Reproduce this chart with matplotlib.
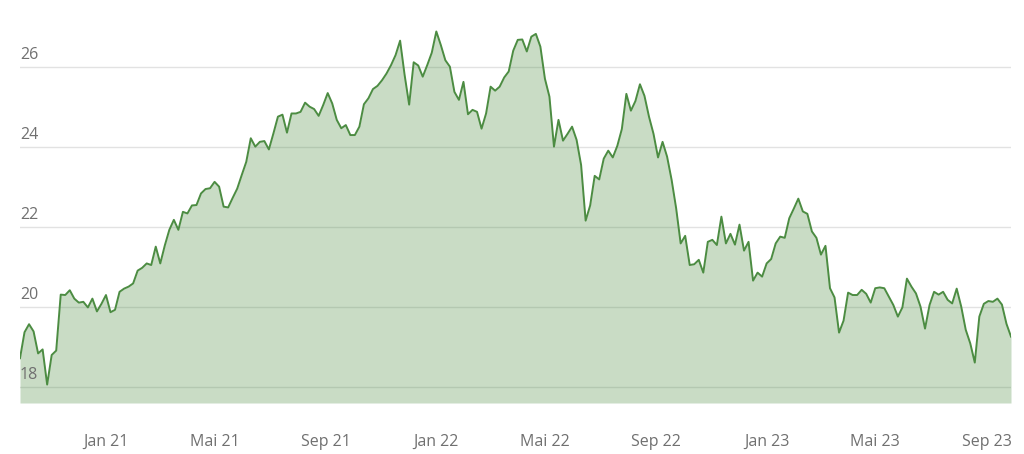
import matplotlib
matplotlib.use('Agg')

import matplotlib.pyplot as plt
import pandas as pd

start_date = "2020-09-28"
prices = [
    18.71, 19.36, 19.56, 19.38, 18.83, 18.93, 18.05, 18.79, 18.90, 20.30,
    20.29, 20.41, 20.20, 20.10, 20.12, 19.98, 20.20, 19.88, 20.07, 20.29,
    19.86, 19.92, 20.37, 20.45, 20.50, 20.58, 20.90, 20.97, 21.08, 21.04,
    21.50, 21.08, 21.53, 21.92, 22.17, 21.92, 22.37, 22.33, 22.53, 22.54,
    22.83, 22.94, 22.96, 23.12, 23.00, 22.50, 22.48, 22.72, 22.95, 23.29,
    23.62, 24.21, 24.00, 24.12, 24.14, 23.93, 24.33, 24.75, 24.80, 24.35,
    24.83, 24.83, 24.87, 25.10, 25.00, 24.94, 24.77, 25.04, 25.34, 25.08,
    24.67, 24.46, 24.54, 24.29, 24.29, 24.50, 25.06, 25.21, 25.44, 25.52,
    25.66, 25.83, 26.04, 26.29, 26.65, 25.79, 25.05, 26.11, 26.03, 25.75,
    26.04, 26.35, 26.88, 26.54, 26.16, 26.00, 25.37, 25.17, 25.62, 24.81,
    24.92, 24.87, 24.45, 24.83, 25.50, 25.40, 25.50, 25.73, 25.88, 26.40,
    26.67, 26.68, 26.38, 26.75, 26.82, 26.50, 25.70, 25.25, 24.00, 24.67,
    24.15, 24.32, 24.50, 24.17, 23.54, 22.15, 22.53, 23.27, 23.18, 23.70,
    23.90, 23.73, 24.02, 24.44, 25.32, 24.90, 25.14, 25.56, 25.27, 24.75,
    24.32, 23.73, 24.12, 23.75, 23.17, 22.46, 21.58, 21.77, 21.04, 21.06,
    21.17, 20.85, 21.62, 21.67, 21.54, 22.25, 21.58, 21.82, 21.55, 22.05,
    21.40, 21.62, 20.65, 20.85, 20.75, 21.08, 21.19, 21.58, 21.75, 21.72,
    22.21, 22.45, 22.70, 22.38, 22.32, 21.88, 21.72, 21.30, 21.52, 20.46,
    20.23, 19.35, 19.65, 20.35, 20.29, 20.29, 20.42, 20.32, 20.10, 20.46,
    20.48, 20.46, 20.25, 20.04, 19.75, 19.98, 20.70, 20.50, 20.33, 20.00,
    19.45, 20.04, 20.37, 20.30, 20.37, 20.17, 20.08, 20.45, 20.00, 19.42,
    19.08, 18.60, 19.75, 20.07, 20.14, 20.12, 20.20, 20.05, 19.57, 19.25,
]
dates = pd.date_range(start_date, periods=len(prices), freq="5D")

y_ticks = [18, 20, 22, 24, 26]
x_tick_dates = ["2021-01-01", "2021-05-01", "2021-09-01", "2022-01-01", "2022-05-01",
                "2022-09-01", "2023-01-01", "2023-05-01", "2023-09-01"]
x_tick_labels = ["Jan 21", "Mai 21", "Sep 21", "Jan 22", "Mai 22",
                 "Sep 22", "Jan 23", "Mai 23", "Sep 23"]

line_color = "#4c8c42"
text_color = "#707070"
y_min, y_max = 17.59, 27.0

plt.rcParams['font.family'] = ['Open Sans', 'DejaVu Sans']

fig = plt.figure(figsize=(10.24, 4.54), dpi=100)
ax = fig.add_axes([20 / 1024, 51 / 454, 991 / 1024, 0.8289])

# Gitterlinien hinter der halbtransparenten Fläche
for t in y_ticks:
    ax.axhline(t, color="#e2e2e2", linewidth=1.0, zorder=1)
    ax.text(0.0, t + 0.2, str(t), transform=ax.get_yaxis_transform(),
            ha="left", va="baseline", fontsize=11.5, color=text_color, zorder=4)

ax.fill_between(dates, prices, y_min, color=line_color, alpha=0.3, linewidth=0, zorder=2)
ax.plot(dates, prices, color=line_color, linewidth=1.4, zorder=3)

ax.set_xlim(dates[0], dates[-1])
ax.set_ylim(y_min, y_max)
ax.set_yticks([])
ax.set_xticks(pd.to_datetime(x_tick_dates))
ax.set_xticklabels(x_tick_labels, fontsize=11.5, color=text_color)
ax.tick_params(axis="x", length=0, pad=22)

for side in ["top", "right", "bottom", "left"]:
    ax.spines[side].set_visible(False)

fig.savefig("out.png", dpi=100, facecolor="white")
